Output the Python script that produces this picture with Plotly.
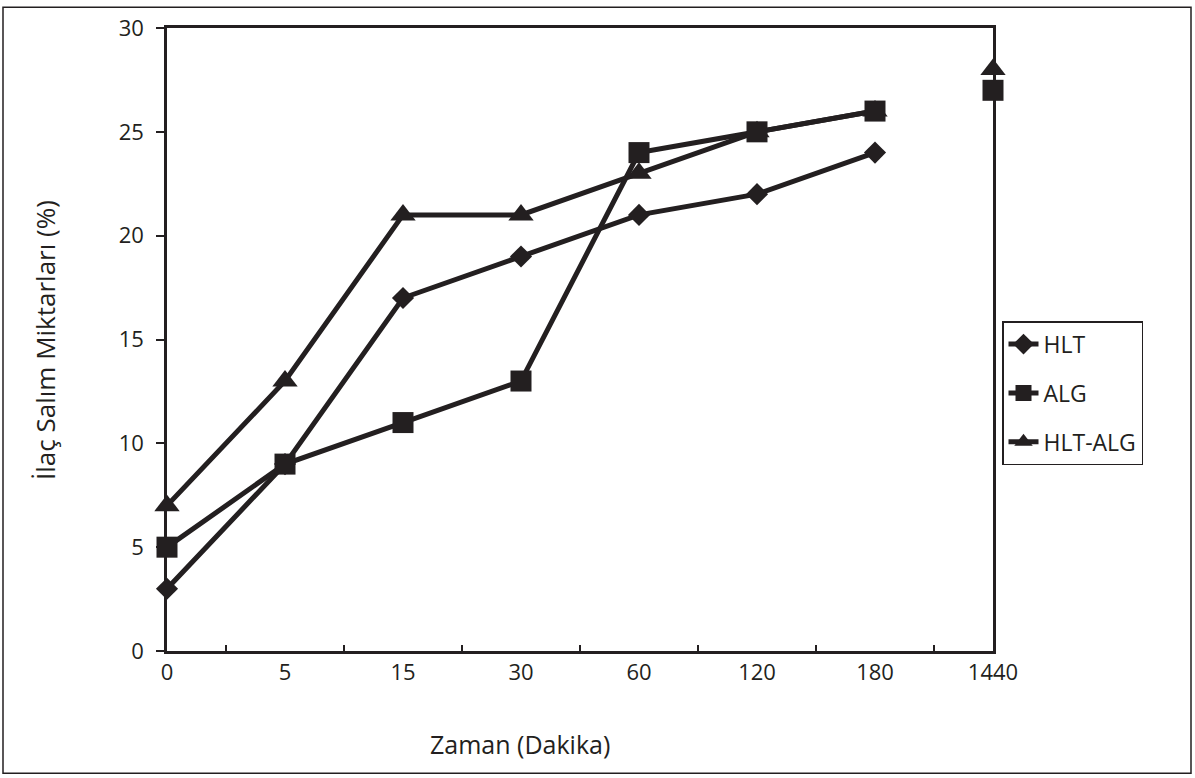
import plotly.graph_objects as go

categories = ["0", "5", "15", "30", "60", "120", "180", "1440"]
hlt = [3, 9, 17, 19, 21, 22, 24, None]
alg = [5, 9, 11, 13, 24, 25, 26, 27]
hlt_alg = [7, 13, 21, 21, 23, 25, 26, 28]
y_ticks = [0, 5, 10, 15, 20, 25, 30]

INK = "#231f20"
FONT = "Open Sans, Noto Sans, sans-serif"

fig = go.Figure()

series = [
    ("HLT", hlt, "diamond", 17, 1),
    ("HLT-ALG", hlt_alg, "triangle-up", 22, 3),
    ("ALG", alg, "square", 21, 2),
]
for name, vals, sym, size, rank in series:
    fig.add_trace(go.Scatter(
        x=categories[:7], y=vals[:7], mode="lines+markers", name=name,
        line=dict(color=INK, width=5),
        marker=dict(symbol=sym, size=size, color=INK),
        legendrank=rank, legendgroup=name, cliponaxis=False,
    ))
    if vals[7] is not None:
        fig.add_trace(go.Scatter(
            x=categories[7:], y=vals[7:], mode="markers", showlegend=False,
            marker=dict(symbol=sym, size=size, color=INK), legendgroup=name,
            cliponaxis=False,
        ))

W, H = 1195, 778
L, R, T, B = 167, 993, 24, 651
pw, ph = R - L, B - T

fig.update_layout(
    width=W, height=H,
    margin=dict(l=L, r=W - R, t=T, b=H - B),
    paper_bgcolor="white", plot_bgcolor="white",
    font=dict(family=FONT, color=INK, size=22),
    legend=dict(
        x=(1002 - L) / pw, y=(B - 319) / ph, xanchor="left", yanchor="top",
        bordercolor=INK, borderwidth=1.5, bgcolor="white",
        font=dict(size=23, family=FONT), tracegroupgap=16,
        traceorder="grouped",
    ),
    xaxis=dict(
        type="category", categoryorder="array", categoryarray=categories,
        range=[0, 7], tickson="boundaries", ticks="inside", ticklen=6,
        tickwidth=1.5, tickcolor=INK,
        showline=True, linecolor=INK, linewidth=2.5, mirror=True,
        showgrid=False, zeroline=False,
        tickfont=dict(size=22, family=FONT),
    ),
    yaxis=dict(
        range=[0, 30], tickvals=y_ticks, ticks="outside", ticklen=8,
        tickwidth=1.5, tickcolor=INK, ticklabelstandoff=8,
        showline=True, linecolor=INK, linewidth=2.5, mirror=True,
        showgrid=False, zeroline=False,
        tickfont=dict(size=22, family=FONT),
    ),
    shapes=[dict(
        type="rect", xref="paper", yref="paper",
        x0=(3 - L) / pw, x1=(1191 - L) / pw,
        y0=(B - 774) / ph, y1=(B - 3) / ph,
        line=dict(color=INK, width=1.5),
    )],
    annotations=[
        dict(text="Zaman (Dakika)", xref="paper", yref="paper",
             x=(520 - L) / pw, y=(B - 745) / ph, showarrow=False,
             xanchor="center", yanchor="middle",
             font=dict(size=25, family=FONT)),
        dict(text="İlaç Salım Miktarları (%)", xref="paper", yref="paper",
             x=(45 - L) / pw, y=(B - 338) / ph, showarrow=False, textangle=-90,
             xanchor="center", yanchor="middle",
             font=dict(size=26, family=FONT)),
    ],
)

fig.write_html("out.html", config={"displayModeBar": False},
               post_script="document.body.style.margin='0';")
